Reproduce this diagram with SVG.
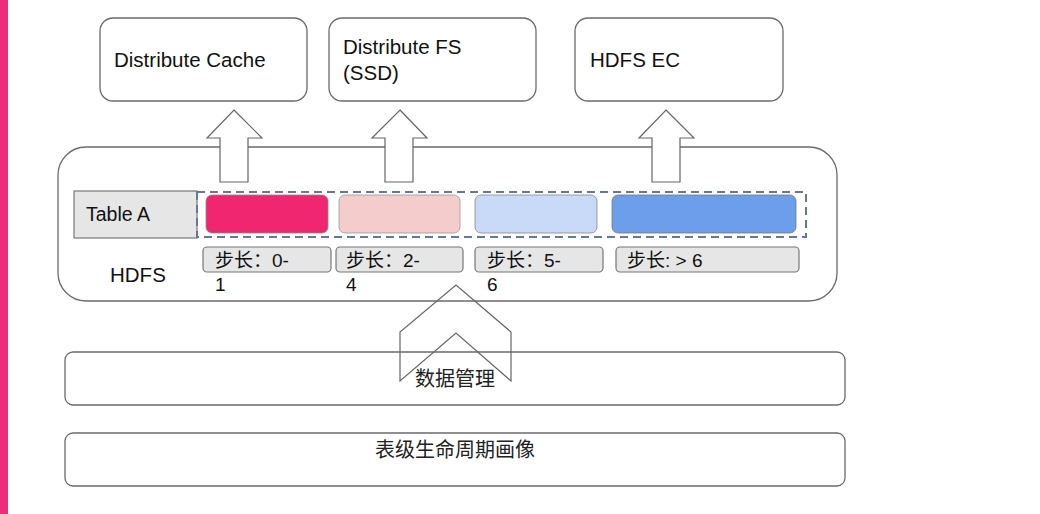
<svg xmlns="http://www.w3.org/2000/svg" width="1040" height="514" viewBox="0 0 1040 514">
<defs>
<style>
.box{fill:#fff;stroke:#6b6b6b;stroke-width:1.3}
.t{font-family:"Liberation Sans","Noto Sans CJK SC",sans-serif;fill:#111}
.cj{font-family:"Noto Sans CJK SC",sans-serif;fill:#222}
.lbl{fill:#e6e6e6;stroke:#777;stroke-width:1.2}
.arr{fill:#fff;stroke:#666;stroke-width:1.2}
</style>
</defs>
<rect x="0" y="0" width="1040" height="514" fill="#fff"/>
<rect x="0" y="0" width="8" height="514" fill="#ef2b7b"/>

<g id="hdfs">
<rect class="box" x="58" y="147" width="779" height="154" rx="28"/>
<text class="t" x="110" y="282" font-size="20.5">HDFS</text>
</g>

<g id="connectors">
<polygon class="arr" points="234,110 262,138 248,138 248,182 220,182 220,138 207,138"/>
<polygon class="arr" points="400,110 427,138 413,138 413,182 385,182 385,138 372,138"/>
<polygon class="arr" points="666,110 694,138 680,138 680,182 652,182 652,138 639,138"/>
</g>

<g id="cache">
<rect class="box" x="100" y="18" width="207" height="83" rx="13"/>
<text class="t" x="114" y="67" font-size="20.5">Distribute Cache</text>
</g>
<g id="fs">
<rect class="box" x="329" y="18" width="207" height="83" rx="13"/>
<text class="t" x="343" y="54" font-size="20.5">Distribute FS</text>
<text class="t" x="343" y="80" font-size="20.5">(SSD)</text>
</g>
<g id="ec">
<rect class="box" x="575" y="18" width="208" height="83" rx="13"/>
<text class="t" x="590" y="67" font-size="20.5">HDFS EC</text>
</g>

<g id="tableA">
<rect x="74" y="191" width="123" height="47" fill="#e6e6e6" stroke="#777" stroke-width="1.2"/>
<text class="t" x="86" y="221" font-size="19.5">Table A</text>
</g>

<g id="tiers">
<rect x="197" y="192" width="609" height="45" fill="none" stroke="#66789a" stroke-width="2" stroke-dasharray="8,5"/>
<rect x="206" y="195" width="122" height="38" rx="6" fill="#f02670" stroke="#888" stroke-width="0.8"/>
<rect x="339" y="195" width="121" height="38" rx="6" fill="#f4cccc" stroke="#999" stroke-width="0.8"/>
<rect x="475" y="195" width="122" height="38" rx="6" fill="#c9daf8" stroke="#888" stroke-width="0.8"/>
<rect x="612" y="195" width="184" height="38" rx="6" fill="#6d9eeb" stroke="#777" stroke-width="0.8"/>
</g>

<g id="labels">
<rect class="lbl" x="203" y="247" width="128" height="25" rx="4"/>
<rect class="lbl" x="336" y="247" width="127" height="25" rx="4"/>
<rect class="lbl" x="475" y="247" width="128" height="25" rx="4"/>
<rect class="lbl" x="616" y="247" width="183" height="25" rx="4"/>
<text class="t" x="215" y="267" font-size="19">步长：0-</text>
<text class="t" x="215" y="291" font-size="19">1</text>
<text class="t" x="346" y="267" font-size="19">步长：2-</text>
<text class="t" x="346" y="291" font-size="19">4</text>
<text class="t" x="487" y="267" font-size="19">步长：5-</text>
<text class="t" x="487" y="291" font-size="19">6</text>
<text class="t" x="627" y="267" font-size="19">步长: &gt; 6</text>
</g>

<g id="datamgmt">
<rect class="box" x="65" y="352" width="780" height="53" rx="8"/>
</g>
<g id="chevron">
<polygon points="400,381 400,332 456,285 511,332 511,381 456,333" fill="none" stroke="#666" stroke-width="1.2"/>
</g>
<text class="cj" x="455" y="386" font-size="20" text-anchor="middle">数据管理</text>

<g id="lifecycle">
<rect class="box" x="65" y="433" width="780" height="53" rx="8"/>
<text class="cj" x="455" y="457" font-size="20" text-anchor="middle">表级生命周期画像</text>
</g>
</svg>
